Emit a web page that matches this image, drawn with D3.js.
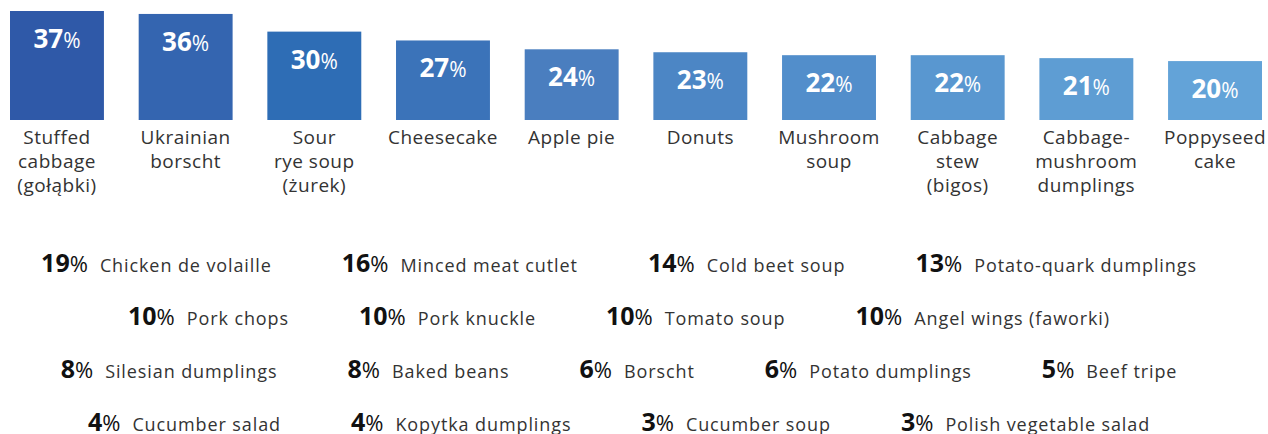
<!DOCTYPE html>
<html>
<head>
<meta charset="utf-8">
<script src="https://cdn.jsdelivr.net/npm/d3@7"></script>
<style>
  html, body { margin:0; padding:0; background:#fff; }
  svg { display:block; }
</style>
</head>
<body>
<div id="viz"></div>
<script>
// Top 10 dishes (bars) + the rest as text rows

const TOP_LABELS = [
  ["Stuffed","cabbage","(gołąbki)"],
  ["Ukrainian","borscht"],
  ["Sour","rye soup","(żurek)"],
  ["Cheesecake"],
  ["Apple pie"],
  ["Donuts"],
  ["Mushroom","soup"],
  ["Cabbage","stew","(bigos)"],
  ["Cabbage-","mushroom","dumplings"],
  ["Poppyseed","cake"]
];
const TOP_VALUES = [37, 36, 30, 27, 24, 23, 22, 22, 21, 20];

const REST_LABELS = [
  ["Chicken de volaille","Minced meat cutlet","Cold beet soup","Potato-quark dumplings"],
  ["Pork chops","Pork knuckle","Tomato soup","Angel wings (faworki)"],
  ["Silesian dumplings","Baked beans","Borscht","Potato dumplings","Beef tripe"],
  ["Cucumber salad","Kopytka dumplings","Cucumber soup","Polish vegetable salad"]
];
const REST_VALUES = [
  [19, 16, 14, 13],
  [10, 10, 10, 10],
  [8, 8, 6, 6, 5],
  [4, 4, 3, 3]
];

const BAR_COLORS = ["#2f59a8","#3465b0","#2e6db5","#3b73b9","#4a7ebf",
                    "#4c86c5","#528ecb","#5997d0","#5e9dd3","#63a3d8"];

const width = 1268, height = 434;
const labelFont = "'Open Sans', sans-serif";
const numFont = "'Open Sans', sans-serif";

const svg = d3.select("#viz").append("svg")
  .attr("width", width)
  .attr("height", height)
  .attr("viewBox", `0 0 ${width} ${height}`);

const idx = d3.range(TOP_VALUES.length);

const x = d3.scaleBand()
  .domain(idx)
  .range([10, 1262])
  .paddingInner(0.27)
  .paddingOuter(0);

const y = d3.scaleLinear()
  .domain([0, 37])
  .range([120, 11]);

// bars
svg.append("g")
  .selectAll("rect")
  .data(idx)
  .join("rect")
  .attr("x", i => x(i))
  .attr("y", i => y(TOP_VALUES[i]))
  .attr("width", x.bandwidth())
  .attr("height", i => y(0) - y(TOP_VALUES[i]))
  .attr("fill", i => BAR_COLORS[i]);

// value labels inside bars
const vl = svg.append("g")
  .selectAll("text")
  .data(idx)
  .join("text")
  .attr("x", i => x(i) + x.bandwidth()/2)
  .attr("y", i => y(TOP_VALUES[i]) + 37)
  .attr("text-anchor", "middle")
  .attr("fill", "#fff")
  .attr("font-family", numFont);
vl.append("tspan")
  .attr("font-size", 26)
  .attr("font-weight", 700)
  .text(i => TOP_VALUES[i]);
vl.append("tspan")
  .attr("font-size", 21)
  .attr("font-weight", 400)
  .text("%");

// category labels under bars
const cl = svg.append("g")
  .selectAll("text")
  .data(idx)
  .join("text")
  .attr("x", i => x(i) + x.bandwidth()/2)
  .attr("y", 144)
  .attr("text-anchor", "middle")
  .attr("fill", "#333")
  .attr("font-family", labelFont)
  .attr("font-size", 19)
  .attr("letter-spacing", 0.5);
cl.selectAll("tspan")
  .data(i => TOP_LABELS[i].map((t, k) => ({t, k, cx: x(i) + x.bandwidth()/2})))
  .join("tspan")
  .attr("x", d => d.cx)
  .attr("dy", d => d.k === 0 ? 0 : 24)
  .text(d => d.t);

// remaining dishes, centred rows
const rowBase = [272, 325, 378, 431];
const itemGap = 70;
const labelGap = 12;
const rowCenter = 619;

REST_LABELS.forEach((labels, r) => {
  const g = svg.append("g");
  const items = labels.map((lab, k) => {
    const it = g.append("g");
    const num = it.append("text")
      .attr("y", rowBase[r])
      .attr("fill", "#111")
      .attr("font-family", numFont);
    num.append("tspan")
      .attr("font-size", 25)
      .attr("font-weight", 700)
      .text(REST_VALUES[r][k]);
    num.append("tspan")
      .attr("font-size", 22)
      .attr("font-weight", 400)
      .text("%");
    const nw = num.node().getComputedTextLength();
    const txt = it.append("text")
      .attr("x", nw + labelGap)
      .attr("y", rowBase[r])
      .attr("fill", "#333")
      .attr("font-family", labelFont)
      .attr("font-size", 18)
      .attr("letter-spacing", 0.9)
      .text(lab);
    const w = nw + labelGap + txt.node().getComputedTextLength();
    return {it, w};
  });
  const total = d3.sum(items, d => d.w) + itemGap * (items.length - 1);
  let cx = rowCenter - total / 2;
  items.forEach(d => {
    d.it.attr("transform", `translate(${cx},0)`);
    cx += d.w + itemGap;
  });
});
</script>
</body>
</html>
